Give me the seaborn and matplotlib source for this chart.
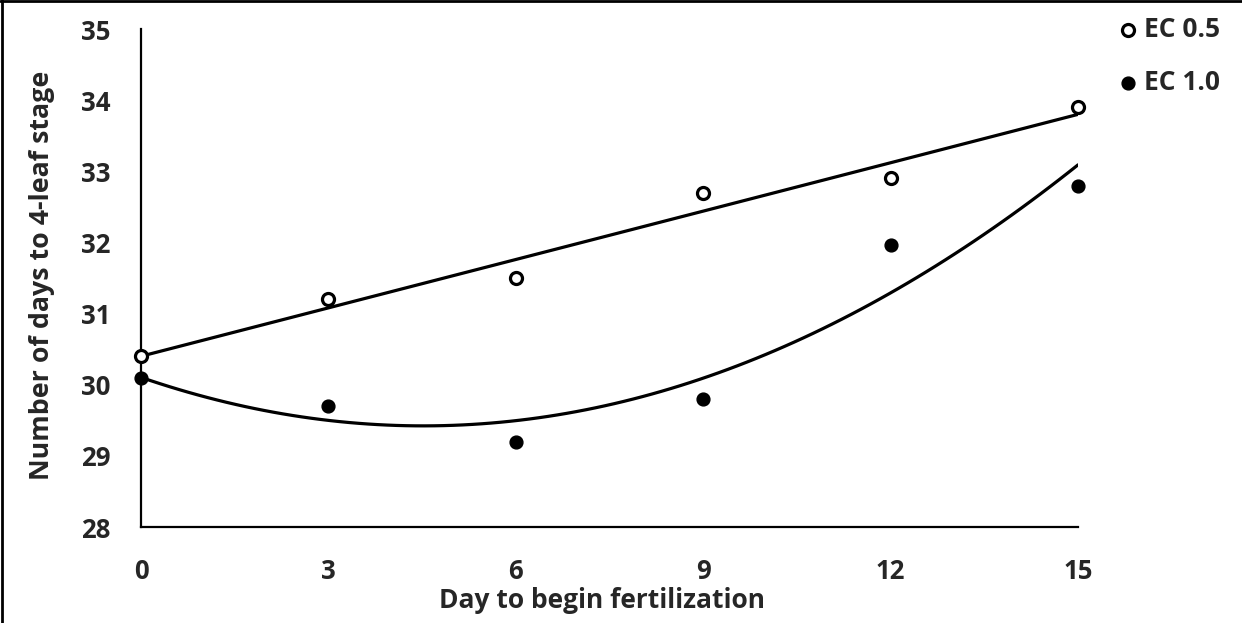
import numpy as np
import matplotlib
matplotlib.use('Agg')
import matplotlib.pyplot as plt
from matplotlib.lines import Line2D
import seaborn as sns

# ------------------
# データ
# ------------------
days = [0, 3, 6, 9, 12, 15]
ec05_values = [30.4, 31.2, 31.5, 32.7, 32.9, 33.9]
ec10_values = [30.1, 29.7, 29.2, 29.8, 31.97, 32.8]
series_labels = ['EC 0.5', 'EC 1.0']
x_ticks = [0, 3, 6, 9, 12, 15]
y_ticks = [28, 29, 30, 31, 32, 33, 34, 35]

sns.set_style('white')
plt.rcParams['font.family'] = ['Open Sans', 'DejaVu Sans']
plt.rcParams['font.weight'] = 'bold'

fig = plt.figure(figsize=(12.42, 6.23), dpi=100)
ax = fig.add_axes([141/1242, 1 - 527/623, 937/1242, 498/623])

# 近似曲線 (EC 0.5: 直線, EC 1.0: 2次)
sns.regplot(x=days, y=ec05_values, order=1, ci=None, scatter=False, truncate=True,
            line_kws={'color': 'black', 'lw': 2.3}, ax=ax)
sns.regplot(x=days, y=ec10_values, order=2, ci=None, scatter=False, truncate=True,
            line_kws={'color': 'black', 'lw': 2.3}, ax=ax)

# 点
ax.scatter(days, ec05_values, s=75, facecolors='white', edgecolors='black',
           linewidths=2.3, zorder=5, label=series_labels[0], clip_on=False)
ax.scatter(days, ec10_values, s=85, color='black', zorder=5,
           label=series_labels[1], clip_on=False)

ax.set_xlim(0, 15)
ax.set_ylim(28, 35)
ax.set_xticks(x_ticks)
ax.set_yticks(y_ticks)
ax.tick_params(axis='both', length=0, labelsize=18.5)
ax.tick_params(axis='x', pad=22)
ax.tick_params(axis='y', pad=22)

for side in ['top', 'right']:
    ax.spines[side].set_visible(False)
for side in ['left', 'bottom']:
    ax.spines[side].set_color('black')
    ax.spines[side].set_linewidth(1.6)

ax.set_xlabel('Day to begin fertilization', fontsize=19, fontweight='bold')
ax.set_ylabel('Number of days to 4-leaf stage', fontsize=19.3, fontweight='bold')
ax.xaxis.set_label_coords((602 - 141) / 937, (527 - 601) / 498)
ax.yaxis.set_label_coords((42 - 141) / 937, (527 - 275) / 498)
ax.xaxis.label.set_va('center')
ax.yaxis.label.set_va('center')

fig.legend(loc='upper left', bbox_to_anchor=(1112/1242, 1 - 16/623), frameon=False,
           handletextpad=0.0, labelspacing=1.0, borderaxespad=0, borderpad=0,
           handlelength=1.2, prop={'weight': 'bold', 'size': 19})

# 図の枠 (左と上)
fig.add_artist(Line2D([0.0015, 0.0015], [0, 1], transform=fig.transFigure, color='black', lw=2))
fig.add_artist(Line2D([0, 1], [0.998, 0.998], transform=fig.transFigure, color='black', lw=2))

fig.savefig('out.png', dpi=100)
